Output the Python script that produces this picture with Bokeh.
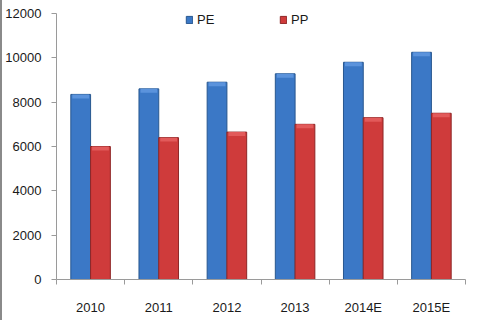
from bokeh.plotting import figure
from bokeh.models import FixedTicker, Legend, LegendItem, ColumnDataSource, Range1d
from bokeh.embed import file_html
from bokeh.resources import INLINE

categories = ["2010", "2011", "2012", "2013", "2014E", "2015E"]
pe_values = [8350, 8600, 8900, 9280, 9800, 10250]
pp_values = [6000, 6400, 6650, 7000, 7300, 7500]
y_ticks = [0, 2000, 4000, 6000, 8000, 10000, 12000]

FONT = "Liberation Sans"
BW = 0.29
CAP = 180  # bevel band height in data units

centers = [i + 0.5 for i in range(len(categories))]
pe_x = [c - BW / 2 for c in centers]
pp_x = [c + BW / 2 for c in centers]

src = ColumnDataSource(dict(
    pe_x=pe_x, pp_x=pp_x, pe=pe_values, pp=pp_values,
    pe_cap=[v - CAP for v in pe_values], pp_cap=[v - CAP for v in pp_values],
))

p = figure(width=498, height=320, output_backend="svg", toolbar_location=None,
           x_range=Range1d(0, len(categories)), y_range=Range1d(0, 12000),
           min_border_left=51, min_border_right=35, min_border_top=13, min_border_bottom=41,
           styles={"border-left": "2px solid #8a8a8a"})
p.outline_line_color = None
p.xgrid.grid_line_color = None
p.ygrid.grid_line_color = None
p.background_fill_color = "white"
p.border_fill_color = "white"

pe_r = p.vbar(x="pe_x", top="pe", bottom=0, width=BW, source=src,
              fill_color="#3b78c6", line_color="#28578f", line_width=1)
pp_r = p.vbar(x="pp_x", top="pp", bottom=0, width=BW, source=src,
              fill_color="#cf3b3b", line_color="#8e2626", line_width=1)
# bevel highlight on tops
p.vbar(x="pe_x", top="pe", bottom="pe_cap", width=BW * 0.85, source=src,
       fill_color="#5b93dc", line_color=None)
p.vbar(x="pp_x", top="pp", bottom="pp_cap", width=BW * 0.85, source=src,
       fill_color="#e25a5a", line_color=None)

# y axis
yax = p.yaxis[0]
yax.ticker = FixedTicker(ticks=y_ticks)
yax.axis_line_color = "#9a9a9a"
yax.major_tick_line_color = "#9a9a9a"
yax.major_tick_out = 5
yax.major_tick_in = 0
yax.minor_tick_line_color = None
yax.major_label_text_font = FONT
yax.major_label_text_font_size = "13px"
yax.major_label_text_color = "#1a1a1a"
yax.major_label_standoff = 10

# x axis: labels at centers, ticks at boundaries
xax = p.xaxis[0]
xax.ticker = FixedTicker(ticks=centers, minor_ticks=list(range(len(categories) + 1)))
xax.major_label_overrides = {c: lab for c, lab in zip(centers, categories)}
xax.axis_line_color = "#9a9a9a"
xax.major_tick_line_color = None
xax.minor_tick_line_color = "#9a9a9a"
xax.minor_tick_out = 5
xax.minor_tick_in = 0
xax.major_label_text_font = FONT
xax.major_label_text_font_size = "13px"
xax.major_label_text_color = "#1a1a1a"
xax.major_label_standoff = 14

legend = Legend(items=[LegendItem(label="PE", renderers=[pe_r]),
                       LegendItem(label="PP", renderers=[pp_r])],
                orientation="horizontal", location=(129, 252),
                glyph_width=8, glyph_height=9, label_standoff=4, spacing=62,
                padding=0, margin=0, border_line_color=None, background_fill_alpha=0,
                label_text_font=FONT, label_text_font_size="13px", label_text_color="#1a1a1a",
                label_height=14)
p.add_layout(legend, "center")

open("out.html", "w").write(file_html(p, INLINE))
